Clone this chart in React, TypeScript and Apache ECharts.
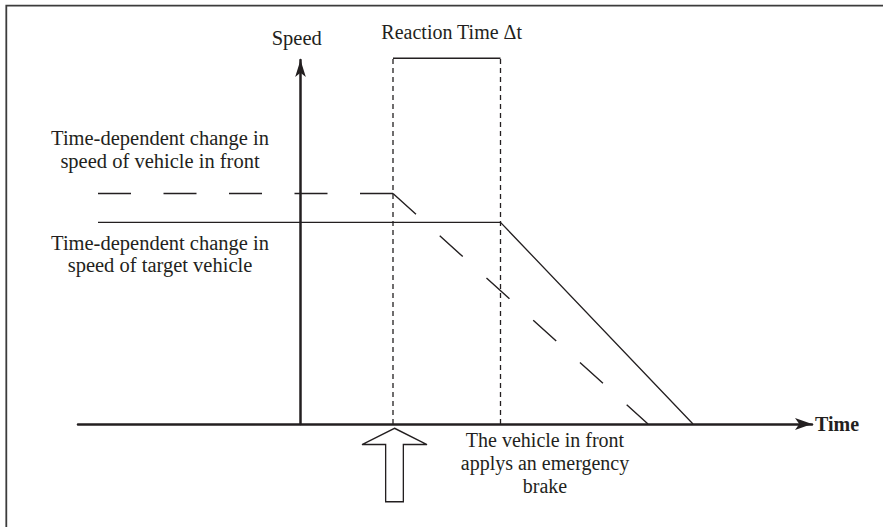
import React, { useEffect, useRef } from "react";
import * as echarts from "echarts";

// ---- data (time in arbitrary units, speed in arbitrary units) ----
const brakeTime = 3.7;          // vehicle in front applies emergency brake
const reactionEndTime = 8.0;    // end of reaction time Δt
const reactionBoxTop = 127;     // height of reaction-time bracket

const frontTimes = [-8.1, 3.7, 13.9];
const frontSpeeds = [80, 80, 0];

const targetTimes = [-8.1, 8.0, 15.7];
const targetSpeeds = [70, 70, 0];

const labelFront = ["Time-dependent change in", "speed of vehicle in front"];
const labelTarget = ["Time-dependent change in", "speed of target vehicle"];
const labelBrake = ["The vehicle in front", "applys an emergency", "brake"];
const labelReaction = "Reaction Time \u0394t";
const labelSpeed = "Speed";
const labelTime = "Time";

const INK = "#231f20";
const FONT = "'Liberation Serif', 'Times New Roman', serif";

const pts = (xs: number[], ys: number[], from = 0, to = xs.length) =>
  xs.slice(from, to).map((x, i) => [x, ys[from + i]]);

export default function App() {
  const ref = useRef<HTMLDivElement>(null);

  useEffect(() => {
    if (!ref.current) return;
    const chart = echarts.init(ref.current, undefined, { renderer: "svg" });

    const lineBase = {
      type: "line" as const,
      symbol: "none",
      silent: true,
      clip: false,
      animation: false,
    };

    chart.setOption({
      animation: false,
      backgroundColor: "#ffffff",
      grid: { left: 78, right: 71, top: 60, bottom: 103, containLabel: false },
      xAxis: {
        type: "value",
        min: -8.9,
        max: 20.46,
        axisLine: {
          show: true,
          onZero: true,
          symbol: ["none", "arrow"],
          symbolSize: [9, 17],
          lineStyle: { color: INK, width: 2.5 },
        },
        axisTick: { show: false },
        axisLabel: { show: false },
        splitLine: { show: false },
      },
      yAxis: {
        type: "value",
        min: 0,
        max: 126.35,
        axisLine: {
          show: true,
          onZero: true,
          symbol: ["none", "arrow"],
          symbolSize: [8, 17],
          lineStyle: { color: INK, width: 2.5 },
        },
        axisTick: { show: false },
        axisLabel: { show: false },
        splitLine: { show: false },
      },
      series: [
        {
          ...lineBase,
          name: "front-cruise",
          data: pts(frontTimes, frontSpeeds, 0, 2),
          lineStyle: { color: INK, width: 1.4, type: [33, 32.5] },
        },
        {
          ...lineBase,
          name: "front-brake",
          data: pts(frontTimes, frontSpeeds, 1, 3),
          lineStyle: { color: INK, width: 1.4, type: [31, 32] },
        },
        {
          ...lineBase,
          name: "target",
          data: pts(targetTimes, targetSpeeds),
          lineStyle: { color: INK, width: 1.3, type: "solid" },
        },
        {
          ...lineBase,
          name: "brake-marker",
          data: [
            [brakeTime, 0],
            [brakeTime, reactionBoxTop],
          ],
          lineStyle: { color: INK, width: 1.3, type: [5, 4] },
          markPoint: {
            silent: true,
            symbol:
              "path://M32.5,0 L65,16.3 L41.35,16.3 L41.35,73.4 L23.65,73.4 L23.65,16.3 L0,16.3 Z",
            symbolSize: [65, 73.4],
            symbolOffset: [1.5, 41],
            itemStyle: { color: "#ffffff", borderColor: INK, borderWidth: 1.4 },
            label: { show: false },
            data: [{ coord: [brakeTime, 0] }],
          },
        },
        {
          ...lineBase,
          name: "reaction-end",
          data: [
            [reactionEndTime, 0],
            [reactionEndTime, reactionBoxTop],
          ],
          lineStyle: { color: INK, width: 1.3, type: [5, 4] },
        },
        {
          ...lineBase,
          name: "reaction-top",
          data: [
            [brakeTime, reactionBoxTop],
            [reactionEndTime, reactionBoxTop],
          ],
          lineStyle: { color: INK, width: 1.5, type: "solid" },
        },
      ],
      graphic: [
        {
          type: "polyline",
          silent: true,
          shape: { points: [[6.3, 527], [6.3, 5.7], [883, 5.7]] },
          style: { stroke: "#3c3c3c", lineWidth: 1.8, fill: "none" },
        },
        {
          type: "text",
          x: 296.7,
          y: 37.5,
          style: {
            text: labelSpeed,
            font: `20.5px ${FONT}`,
            fill: INK,
            textAlign: "center",
            textVerticalAlign: "middle",
          },
        },
        {
          type: "text",
          x: 451.7,
          y: 31.5,
          style: {
            text: labelReaction,
            font: `20px ${FONT}`,
            fill: INK,
            textAlign: "center",
            textVerticalAlign: "middle",
          },
        },
        {
          type: "text",
          x: 160,
          y: 149.5,
          style: {
            text: labelFront.join("\n"),
            font: `20.5px ${FONT}`,
            lineHeight: 22.3,
            fill: INK,
            textAlign: "center",
            textVerticalAlign: "middle",
          },
        },
        {
          type: "text",
          x: 160,
          y: 253.8,
          style: {
            text: labelTarget.join("\n"),
            font: `20.5px ${FONT}`,
            lineHeight: 22.4,
            fill: INK,
            textAlign: "center",
            textVerticalAlign: "middle",
          },
        },
        {
          type: "text",
          x: 545,
          y: 462.9,
          style: {
            text: labelBrake.join("\n"),
            font: `20px ${FONT}`,
            lineHeight: 23.3,
            fill: INK,
            textAlign: "center",
            textVerticalAlign: "middle",
          },
        },
        {
          type: "text",
          x: 815,
          y: 424.3,
          style: {
            text: labelTime,
            font: `bold 20px ${FONT}`,
            fill: INK,
            textAlign: "left",
            textVerticalAlign: "middle",
          },
        },
      ],
    });

    return () => chart.dispose();
  }, []);

  return (
    <div
      ref={ref}
      style={{
        position: "absolute",
        left: 0,
        top: 0,
        width: 883,
        height: 527,
        background: "#ffffff",
      }}
    />
  );
}
